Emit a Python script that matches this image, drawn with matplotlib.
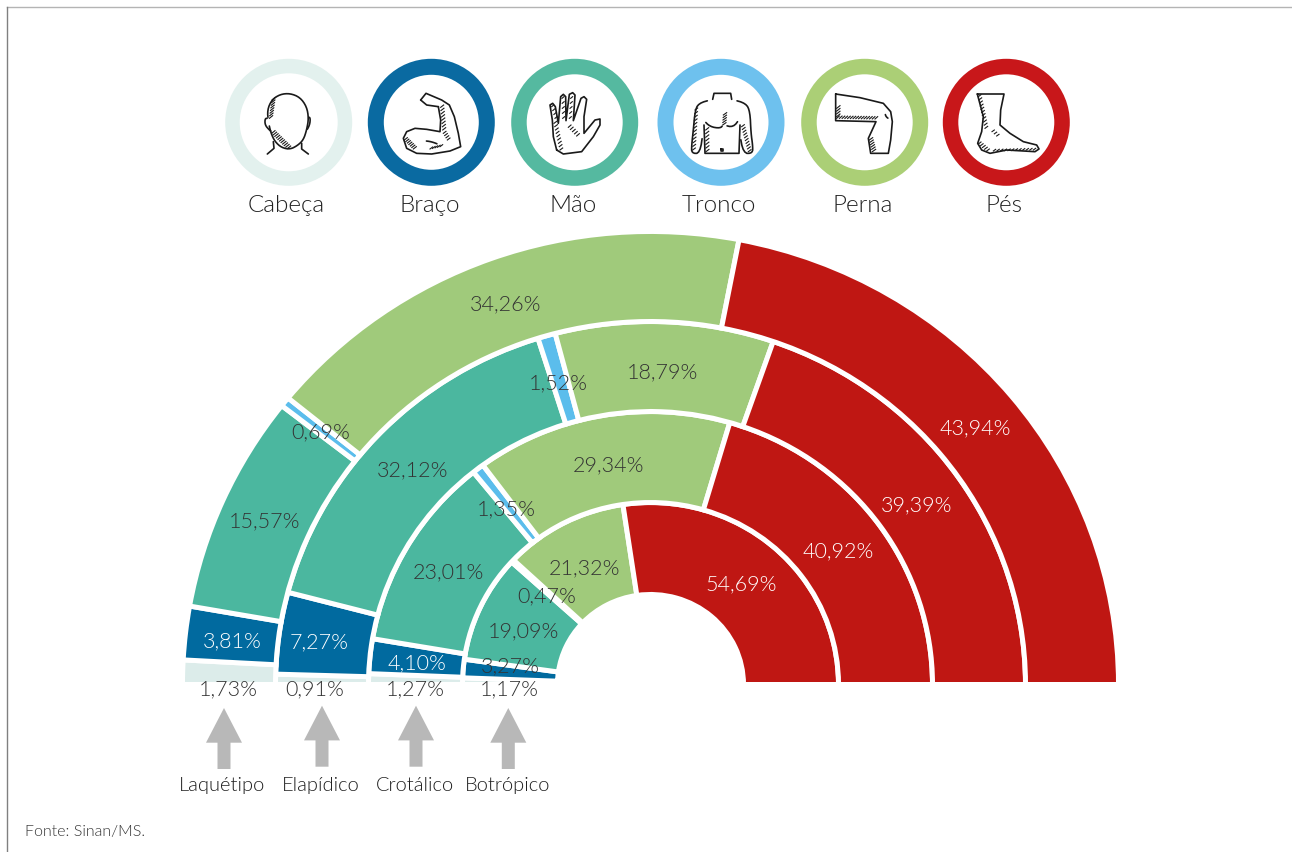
import matplotlib
matplotlib.use("Agg")
import matplotlib.pyplot as plt
from matplotlib.patches import Wedge, Circle, Polygon

W, H = 1292, 852

# ==========================================
# DATA (left to right along the half circle, inner ring first)
# ==========================================
parts = ["Cabeça", "Braço", "Mão", "Tronco", "Perna", "Pés"]
botropico = [1.17, 3.27, 19.09, 0.47, 21.32, 54.69]
crotalico = [1.27, 4.10, 23.01, 1.35, 29.34, 40.92]
elapidico = [0.91, 7.27, 32.12, 1.52, 18.79, 39.39]
laquetico = [1.73, 3.81, 15.57, 0.69, 34.26, 43.94]
snakes = ["Botrópico", "Crotálico", "Elapídico", "Laquétipo"]

# ==========================================
# STYLE AND PLACEMENT
# ==========================================
wedge_colors = ["#dcecea", "#016a9f", "#4bb79f", "#5bbdec", "#a0ca7b", "#bf1713"]
ring_colors = ["#e3f1ee", "#0a6aa1", "#55b9a0", "#6ec1ee", "#abcf76", "#c8171a"]
radii = [93, 188, 282, 375, 468]
rings = [botropico, crotalico, elapidico, laquetico]

# label centres in pixels, same order as the rings
label_pos = [
    [(509, 689), (510, 666), (523, 631), (547, 596), (585, 568), (741, 584)],
    [(415, 689), (417, 663), (448, 572), (506, 509), (609, 465), (838, 551)],
    [(315, 689), (319, 642), (413, 470), (558, 383), (662, 372), (917, 505)],
    [(228, 689), (232, 641), (265, 521), (321, 432), (506, 304), (975, 428)],
]
label_white = [
    [False, False, False, False, False, True],
    [False, True, False, False, False, True],
    [False, True, False, False, False, True],
    [False, True, False, False, False, True],
]
ring_x = [288.7, 431.3, 574.7, 721, 864.7, 1006.3]
ring_inner = [49, 47.5, 48, 47.5, 48, 48]
arrow_x = [508.3, 416, 322, 224]
arrow_top = [708, 705.7, 705.7, 708]
snake_x = [508, 414.5, 321, 222]

plt.rcParams["font.family"] = ["Lato", "DejaVu Sans"]
plt.rcParams["font.weight"] = 300
fig = plt.figure(figsize=(W / 100, H / 100), dpi=100)

# ==========================================
# SEMICIRCLE (slightly squashed, like the original)
# ==========================================
cx, base_y, R, squash = 650.5, 684.5, 470, 0.968
ax = fig.add_axes([(cx - R) / W, 1 - base_y / H, 2 * R / W, R * squash / H])
ax.set_xlim(-R, R)
ax.set_ylim(0, R)
ax.axis("off")
for i, ring in enumerate(rings):
    total = sum(ring)
    cum = 0
    for v, c in zip(ring, wedge_colors):
        t2 = 180 - cum / total * 180
        cum += v
        t1 = 180 - cum / total * 180
        ax.add_patch(Wedge((0, 0), radii[i + 1], t1, t2, width=radii[i + 1] - radii[i],
                           facecolor=c, edgecolor="white", linewidth=3.6, clip_on=False))

# ==========================================
# OVERLAY IN PIXEL COORDINATES
# ==========================================
ov = fig.add_axes([0, 0, 1, 1])
ov.set_xlim(0, W)
ov.set_ylim(H, 0)
ov.axis("off")
ov.patch.set_alpha(0)

# page frame
ov.plot([6.5, W], [7, 7], color="#b4b4b4", lw=1)
ov.plot([6.5, 6.5], [7, H], color="#808080", lw=1)

for i, ring in enumerate(rings):
    for v, (x, y), white in zip(ring, label_pos[i], label_white[i]):
        txt = f"{v:.2f}%".replace(".", ",")
        ov.text(x, y, txt, ha="center", va="center", fontsize=15.5,
                color="white" if white else "#333333")

# arrows
for name, x, top, tx in zip(snakes, arrow_x, arrow_top, snake_x):
    ov.add_patch(Polygon([(x, top), (x + 18, top + 34.7), (x + 6.5, top + 34.7), (x + 6.5, top + 61),
                          (x - 6.5, top + 61), (x - 6.5, top + 34.7), (x - 18, top + 34.7)],
                         closed=True, facecolor="#b8b8b8", edgecolor="none"))
    ov.text(tx, 785.5, name, ha="center", va="center", fontsize=14.5, color="#1f1f1f")

ov.text(25, 832, "Fonte: Sinan/MS.", ha="left", va="center", fontsize=11.5, color="#333333")

# body part rings
for name, x, inner, c in zip(parts, ring_x, ring_inner, ring_colors):
    ov.add_patch(Circle((x, 122.3), (63.5 + inner) / 2, facecolor="white", edgecolor="none"))
    ov.add_patch(Circle((x, 122.3), (63.5 + inner) / 2, facecolor="none", edgecolor=c,
                        linewidth=(63.5 - inner) * 0.72))
    ov.text(x - 3 if name == "Cabeça" else x - 2, 205.5, name, ha="center", va="center",
            fontsize=17.5, color="#222222")


# ==========================================
# LINE ART ICONS (traced on a 3x crop of the header)
# ==========================================
def smooth(pts, n=2):
    for _ in range(n):
        new = []
        for a, b in zip(pts, pts[1:]):
            new.append((0.75 * a[0] + 0.25 * b[0], 0.75 * a[1] + 0.25 * b[1]))
            new.append((0.25 * a[0] + 0.75 * b[0], 0.25 * a[1] + 0.75 * b[1]))
        pts = new
    return pts


def line(ox, pts, round_it=True):
    pts = smooth(pts) if round_it else pts
    ov.plot([ox + p[0] / 3 for p in pts], [50 + p[1] / 3 for p in pts],
            color="#1a1a1a", lw=1.2, solid_capstyle="round", solid_joinstyle="round")


def hatch(ox, a, b, n, dx=8, dy=-8):
    for k in range(n):
        t = k / max(n - 1, 1)
        x = a[0] + (b[0] - a[0]) * t
        y = a[1] + (b[1] - a[1]) * t
        ov.plot([ox + x / 3, ox + (x + dx) / 3], [50 + y / 3, 50 + (y + dy) / 3],
                color="#1a1a1a", lw=0.8)


# head
line(210, [(175, 215), (172, 180), (185, 150), (210, 133), (240, 130), (270, 142), (290, 170), (296, 205),
           (290, 240), (280, 270), (262, 287), (240, 298), (215, 293), (195, 275), (183, 250), (175, 215)])
line(210, [(175, 205), (165, 205), (165, 225), (178, 240), (185, 245)])
line(210, [(296, 200), (301, 205), (299, 225), (288, 245)])
line(210, [(190, 275), (192, 295), (172, 312)], False)
line(210, [(275, 280), (275, 297), (295, 312)], False)
hatch(210, (178, 205), (186, 150), 8, 10, -8)
hatch(210, (185, 250), (232, 296), 11, 10, -8)

# arm
line(210, [(632, 150), (648, 130), (695, 150), (718, 165), (733, 200), (745, 250), (752, 290), (720, 303),
           (665, 312), (620, 310), (590, 295), (580, 265), (590, 245), (615, 235), (650, 238), (690, 245),
           (692, 210), (685, 170)], False)
line(210, [(685, 170), (650, 165), (632, 150)], False)
line(210, [(640, 272), (665, 275), (690, 285)])
hatch(210, (692, 172), (698, 240), 8, 9, -7)
hatch(210, (583, 270), (610, 297), 7, 9, -7)
hatch(210, (700, 250), (712, 270), 4, 8, -6)
hatch(210, (660, 297), (690, 290), 5, 8, -6)

# hand
line(210, [(1040, 300), (1030, 260), (1027, 210), (1020, 165), (1028, 160), (1036, 170), (1045, 220), (1052, 140),
           (1060, 133), (1067, 140), (1068, 212), (1078, 133), (1088, 128), (1095, 135), (1090, 212), (1113, 145),
           (1122, 140), (1130, 148), (1122, 200), (1122, 250), (1155, 210), (1170, 207), (1170, 225), (1150, 260),
           (1115, 305), (1060, 312), (1040, 300)], False)
hatch(210, (1032, 220), (1050, 300), 9, 8, -6)
hatch(210, (1075, 232), (1100, 258), 5, 8, -7)
hatch(210, (1025, 170), (1035, 205), 4, 6, -5)
hatch(210, (1056, 145), (1058, 205), 5, 6, -5)
hatch(210, (1082, 145), (1078, 205), 5, 6, -5)

# torso
line(640, [(218, 148), (222, 130), (272, 130), (275, 148)], False)
line(640, [(218, 148), (175, 160), (165, 185), (160, 240), (155, 285), (155, 310), (180, 310), (190, 240)])
line(640, [(275, 148), (318, 160), (330, 185), (333, 250), (338, 285), (338, 310), (310, 310), (298, 245)])
line(640, [(192, 225), (195, 310), (297, 310), (300, 225)], False)
line(640, [(190, 210), (210, 230), (240, 235), (250, 225)])
line(640, [(250, 225), (280, 232), (300, 205)])
line(640, [(244, 298), (248, 298), (248, 303), (244, 303), (244, 298)], False)
hatch(640, (248, 225), (250, 195), 5, 10, -7)
hatch(640, (165, 180), (158, 300), 12, 8, -6)
hatch(640, (305, 230), (325, 305), 10, 8, -6)
hatch(640, (197, 240), (198, 305), 7, 9, -7)

# leg
line(640, [(587, 132), (660, 143), (730, 160), (752, 185), (757, 215), (752, 270), (745, 310), (692, 310),
           (685, 265), (708, 215), (587, 212), (587, 132)], False)
line(640, [(735, 190), (738, 200), (747, 207)])
hatch(640, (590, 205), (705, 207), 15, 8, -7)
hatch(640, (590, 175), (590, 200), 4, 10, -8)
hatch(640, (688, 270), (697, 305), 6, 10, -7)

# foot
line(640, [(1012, 132), (1092, 132), (1082, 180), (1080, 225), (1110, 250), (1150, 275), (1190, 285), (1197, 297),
           (1185, 305), (1100, 300), (1050, 310), (1025, 300), (1013, 280), (1025, 245), (1030, 200), (1012, 132)],
     False)
hatch(640, (1015, 140), (1035, 235), 11, 8, -6)
hatch(640, (1015, 282), (1040, 303), 5, 8, -6)
hatch(640, (1060, 303), (1180, 300), 12, 7, -5)
hatch(640, (1056, 245), (1070, 258), 3, 7, -5)

fig.savefig("out.png", dpi=100)
